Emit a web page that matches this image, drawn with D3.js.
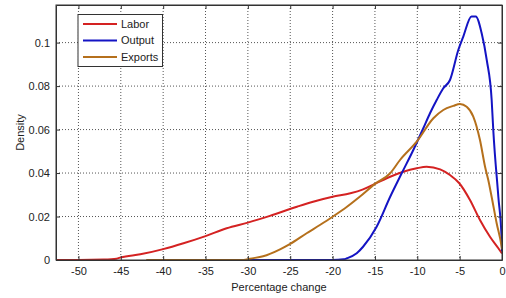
<!DOCTYPE html>
<html>
<head>
<meta charset="utf-8">
<script src="https://cdn.jsdelivr.net/npm/d3@7"></script>
<style>
  body { margin: 0; background: #fff; }
  svg { display: block; font-family: Arial, "Liberation Sans", sans-serif; }
  .axis path { stroke: #333; }
  .axis line { stroke: #333; }
  .axis text { fill: #222; font-size: 11px; }
  .grid line { stroke: #555; stroke-dasharray: 1,2; }
</style>
</head>
<body>
<svg id="chart"></svg>
<script>
// Series values
var laborX = [-52.6, -50, -47, -45.5, -45, -42.7, -40, -37.6, -35, -32.5, -30, -27.4, -24.2, -22.3, -20, -17.9, -16.4, -15, -13.2, -11.65, -10.07, -8.9, -7.3, -6.14, -5.04, -3.78, -2.6, -1.42, -0.43, 0];
var laborY = [0, 0, 0.0002, 0.0006, 0.0012, 0.0026, 0.005, 0.0077, 0.011, 0.0146, 0.0172, 0.0203, 0.0245, 0.0268, 0.0291, 0.0307, 0.0325, 0.035, 0.0383, 0.0406, 0.0422, 0.0429, 0.0417, 0.0391, 0.0353, 0.0276, 0.0184, 0.0107, 0.0054, 0.003];

var outputX = [-31, -20, -18.7, -18.3, -17.15, -16.4, -14.8, -13.2, -11.84, -10.47, -9.29, -8.5, -7.71, -6.93, -6.14, -5.16, -4.57, -3.6, -3.1, -2.4, -1.8, -1.22, -1.03, -0.43, -0.04, 0];
var outputY = [0, 0, 0.0003, 0.0008, 0.0031, 0.0061, 0.0153, 0.0291, 0.0399, 0.0506, 0.0606, 0.0675, 0.0736, 0.079, 0.0828, 0.0966, 0.1028, 0.112, 0.112, 0.1043, 0.092, 0.0736, 0.0598, 0.029, 0.0092, 0.004];

var exportsX = [-42, -30.5, -29.75, -28.2, -26.2, -25, -23.06, -21.5, -20, -18.3, -16.8, -15, -13.2, -12.04, -10.07, -8.1, -6.93, -5.75, -4.96, -4.17, -3.39, -2.6, -2.0, -1.62, -1.22, -0.63, -0.04, 0];
var exportsY = [0, 0, 0.0006, 0.0017, 0.0049, 0.0074, 0.0123, 0.0161, 0.0199, 0.0245, 0.0291, 0.035, 0.0399, 0.046, 0.0544, 0.0652, 0.069, 0.0709, 0.0718, 0.0705, 0.066, 0.0552, 0.0429, 0.0368, 0.029, 0.0169, 0.0061, 0.005];

var seriesNames = ['Labor', 'Output', 'Exports'];
var xTicks = [-50, -45, -40, -35, -30, -25, -20, -15, -10, -5, 0];
var yTicks = [0, 0.02, 0.04, 0.06, 0.08, 0.1];

// Setup chart dimensions and margins
var margin = { top: 5, right: 4, bottom: 38, left: 56 };
var width = 506 - margin.left - margin.right;
var height = 298 - margin.top - margin.bottom;

var x = d3.scaleLinear()
    .domain([-52.65, 0])
    .range([0, width]);
var y = d3.scaleLinear()
    .domain([0, 0.1173])
    .range([height, 0]);

var colors = ['#d42222', '#1414c4', '#b5701c'];

var svg = d3.select('#chart')
    .attr('width', 506)
    .attr('height', 298)
  .append('g')
    .attr('transform', 'translate(' + margin.left + ',' + margin.top + ')');

// Grid
svg.append('g')
  .attr('class', 'grid')
  .selectAll('line')
  .data(xTicks.filter(function (d) { return d !== 0; }))
  .enter().append('line')
    .attr('x1', function (d) { return x(d); })
    .attr('x2', function (d) { return x(d); })
    .attr('y1', 0)
    .attr('y2', height);

svg.append('g')
  .attr('class', 'grid')
  .selectAll('line')
  .data(yTicks.filter(function (d) { return d !== 0; }))
  .enter().append('line')
    .attr('x1', 0)
    .attr('x2', width)
    .attr('y1', function (d) { return y(d); })
    .attr('y2', function (d) { return y(d); });

// Lines
var line = d3.line()
  .x(function (d) { return x(d[0]); })
  .y(function (d) { return y(d[1]); })
  .curve(d3.curveMonotoneX);

var series = [
  d3.zip(laborX, laborY),
  d3.zip(outputX, outputY),
  d3.zip(exportsX, exportsY)
];

svg.selectAll('path.series')
  .data(series)
  .enter().append('path')
    .attr('class', 'series')
    .attr('d', line)
    .attr('fill', 'none')
    .attr('stroke', function (d, i) { return colors[i]; })
    .attr('stroke-width', 2)
    .attr('stroke-linejoin', 'round');

// Axes (box with inward ticks)
var xAxis = d3.axisBottom(x).tickValues(xTicks).tickSizeInner(-4).tickSizeOuter(0).tickPadding(7)
  .tickFormat(function (d) { return String(d); });
var yAxis = d3.axisLeft(y).tickValues(yTicks).tickSizeInner(-4).tickSizeOuter(0).tickPadding(6)
  .tickFormat(function (d) { return d === 0 ? '0' : String(+d.toFixed(2)); });

svg.append('g')
  .attr('class', 'axis axis--x')
  .attr('transform', 'translate(0,' + height + ')')
  .call(xAxis);

svg.append('g')
  .attr('class', 'axis axis--y')
  .call(yAxis);

svg.append('g')
  .attr('class', 'axis')
  .call(d3.axisTop(x).tickValues(xTicks).tickSizeInner(-4).tickSizeOuter(0).tickFormat(''));

svg.append('g')
  .attr('class', 'axis')
  .attr('transform', 'translate(' + width + ',0)')
  .call(d3.axisRight(y).tickValues(yTicks).tickSizeInner(-4).tickSizeOuter(0).tickFormat(''));

svg.append('rect')
  .attr('width', width)
  .attr('height', height)
  .attr('fill', 'none')
  .attr('stroke', '#333')
  .attr('stroke-width', 1);

// Axis labels
svg.append('text')
  .attr('x', width / 2)
  .attr('y', height + 31)
  .attr('text-anchor', 'middle')
  .style('font-size', '11px')
  .style('fill', '#222')
  .text('Percentage change');

svg.append('text')
  .attr('transform', 'rotate(-90)')
  .attr('x', -height / 2)
  .attr('y', -32)
  .attr('text-anchor', 'middle')
  .style('font-size', '11px')
  .style('fill', '#222')
  .text('Density');

// Legend
var legend = svg.append('g')
  .attr('transform', 'translate(' + (78 - margin.left) + ',' + (14.5 - margin.top) + ')');

legend.append('rect')
  .attr('width', 84.5)
  .attr('height', 52)
  .attr('fill', '#fff')
  .attr('stroke', '#333');

var rows = legend.selectAll('g.row')
  .data(seriesNames)
  .enter().append('g')
    .attr('class', 'row')
    .attr('transform', function (d, i) { return 'translate(0,' + (9.5 + i * 16.5) + ')'; });

rows.append('line')
  .attr('x1', 5)
  .attr('x2', 39)
  .attr('stroke', function (d, i) { return colors[i]; })
  .attr('stroke-width', 2);

rows.append('text')
  .attr('x', 43)
  .attr('dy', '0.35em')
  .style('font-size', '11px')
  .style('fill', '#222')
  .text(function (d) { return d; });
</script>
</body>
</html>
